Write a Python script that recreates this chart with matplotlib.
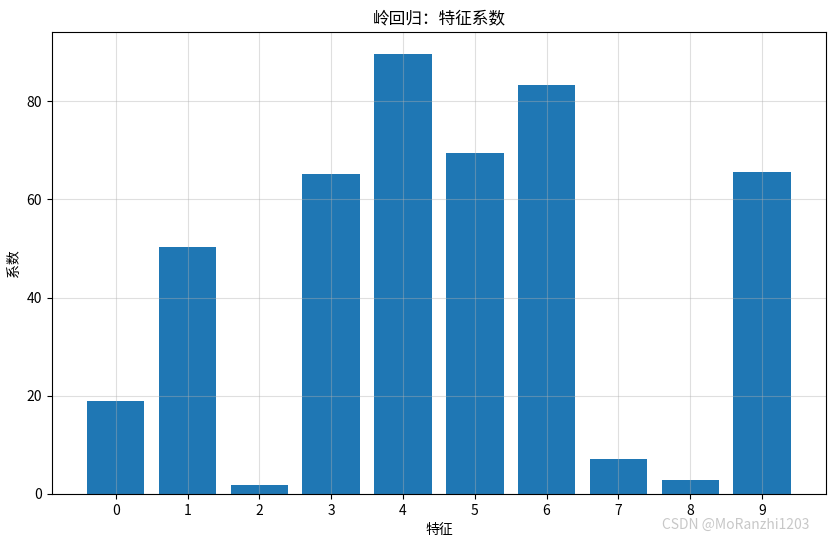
import numpy as np
import matplotlib.pyplot as plt

plt.rcParams['font.family'] = ['Noto Sans CJK SC', 'DejaVu Sans']
plt.rcParams['axes.unicode_minus'] = False

features = np.arange(10)
coefs = [18.9, 50.3, 1.8, 65.1, 89.6, 69.4, 83.4, 7.1, 2.9, 65.5]

fig = plt.figure(figsize=(8.36, 5.44), dpi=100)
ax = fig.add_subplot(111)
fig.subplots_adjust(left=0.062, right=0.988, top=0.941, bottom=0.092)

ax.bar(features, coefs, color='#1f77b4')
ax.set_xticks(features)
ax.set_title('岭回归：特征系数', fontsize=12)
ax.set_xlabel('特征')
ax.set_ylabel('系数')
ax.grid(True, alpha=0.4)

# watermark
fig.text(0.968, 0.022, 'CSDN @MoRanzhi1203', ha='right', va='bottom',
         color='#c8c8c8', fontsize=10)

plt.savefig('out.png')
